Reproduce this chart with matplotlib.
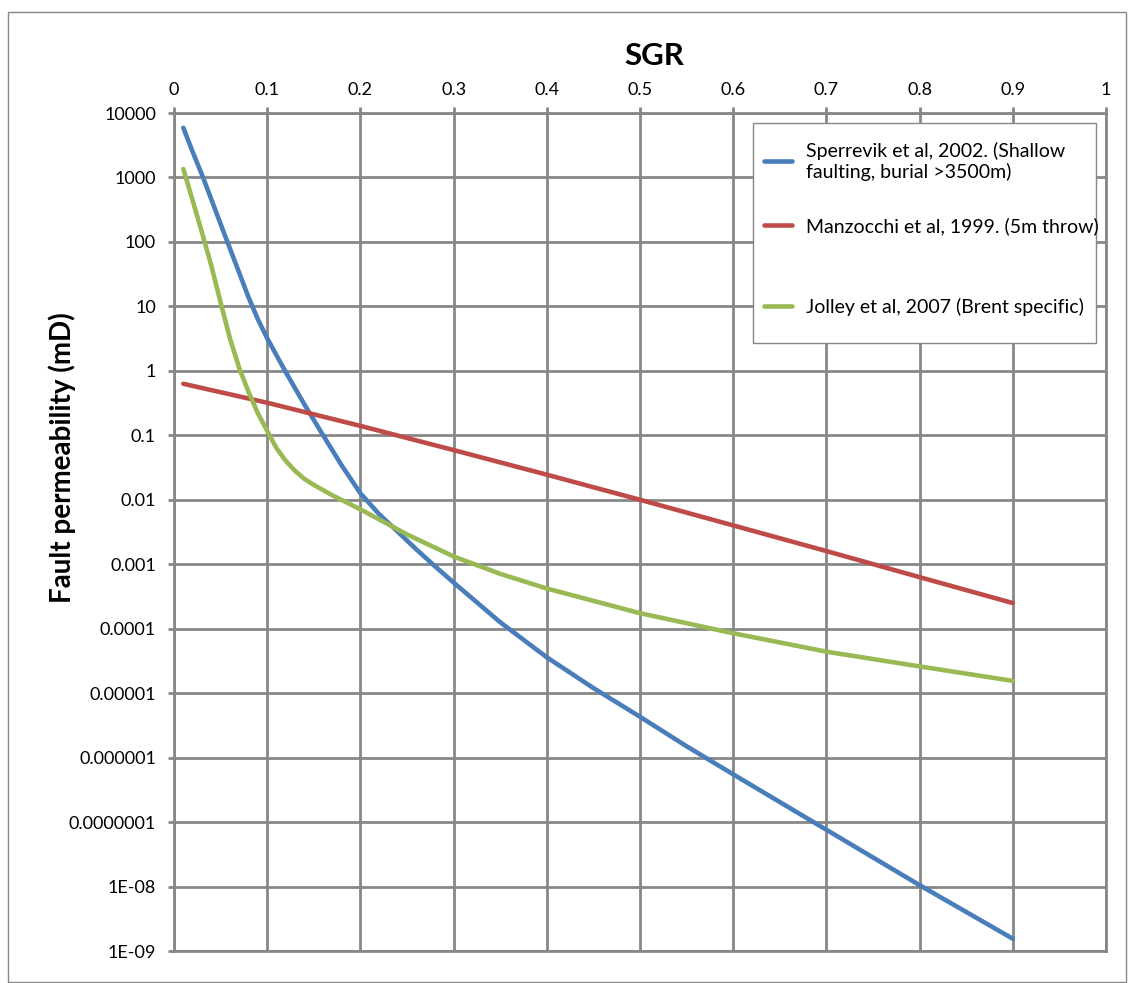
import matplotlib.pyplot as plt
import matplotlib.ticker as mticker
from matplotlib.patches import Rectangle

# SGR values and permeabilities (mD)
sgr_sperrevik = [0.01, 0.02, 0.03, 0.04, 0.05, 0.06, 0.07, 0.08, 0.09, 0.10,
                 0.12, 0.14, 0.16, 0.18, 0.20, 0.22, 0.24, 0.26, 0.28, 0.30,
                 0.35, 0.40, 0.45, 0.50, 0.55, 0.60, 0.70, 0.80, 0.90]
k_sperrevik = [5900, 2500, 1100, 460, 190, 79, 33, 13.8, 6.3, 3.2,
               0.95, 0.30, 0.10, 0.034, 0.0126, 0.0060, 0.0032, 0.0017, 0.00093, 0.00052,
               1.26e-4, 3.6e-5, 1.2e-5, 4.3e-6, 1.5e-6, 5.5e-7, 7.6e-8, 1.05e-8, 1.55e-9]

sgr_manzocchi = [0.01, 0.1, 0.2, 0.3, 0.4, 0.5, 0.6, 0.7, 0.8, 0.9]
k_manzocchi = [0.63, 0.32, 0.14, 0.059, 0.0245, 0.010, 0.0040, 0.0016, 0.00063, 0.00025]

sgr_jolley = [0.01, 0.02, 0.03, 0.04, 0.05, 0.06, 0.07, 0.08, 0.09, 0.10,
              0.11, 0.12, 0.13, 0.14, 0.15, 0.17, 0.20, 0.25, 0.30, 0.35,
              0.40, 0.50, 0.60, 0.70, 0.80, 0.90]
k_jolley = [1350, 440, 140, 43, 11.5, 3.2, 1.1, 0.47, 0.22, 0.117,
            0.063, 0.040, 0.028, 0.021, 0.017, 0.0117, 0.0071, 0.0029, 0.00132, 0.00071,
            0.00042, 0.000174, 8.5e-5, 4.4e-5, 2.6e-5, 1.55e-5]

series_labels = ['Sperrevik et al, 2002. (Shallow\nfaulting, burial >3500m)',
                 'Manzocchi et al, 1999. (5m throw)',
                 'Jolley et al, 2007 (Brent specific)']
series_colors = ['#4A7EBB', '#BE4B48', '#98B954']

xtick_values = [0, 0.1, 0.2, 0.3, 0.4, 0.5, 0.6, 0.7, 0.8, 0.9, 1]
xtick_labels = ['0', '0.1', '0.2', '0.3', '0.4', '0.5', '0.6', '0.7', '0.8', '0.9', '1']
ytick_values = [1e4, 1e3, 1e2, 1e1, 1, 1e-1, 1e-2, 1e-3, 1e-4, 1e-5, 1e-6, 1e-7, 1e-8, 1e-9]
ytick_labels = ['10000', '1000', '100', '10', '1', '0.1', '0.01', '0.001', '0.0001',
                '0.00001', '0.000001', '0.0000001', '1E-08', '1E-09']

plt.rcParams['font.family'] = ['Lato', 'DejaVu Sans']
grid_col = '#878787'

fig = plt.figure(figsize=(11.28, 9.83), dpi=100)
ax = fig.add_axes([174 / 1128, 1 - 951 / 983, 932 / 1128, 838 / 983])

lines = []
for xs, ks, lab, col in zip([sgr_sperrevik, sgr_manzocchi, sgr_jolley],
                            [k_sperrevik, k_manzocchi, k_jolley],
                            series_labels, series_colors):
    ln, = ax.plot(xs, ks, color=col, lw=3.3, label=lab, solid_capstyle='round', zorder=3)
    lines.append(ln)

ax.set_yscale('log')
ax.set_xlim(0, 1)
ax.set_ylim(1e-9, 1e4)
ax.set_xticks(xtick_values)
ax.set_xticklabels(xtick_labels)
ax.set_yticks(ytick_values)
ax.set_yticklabels(ytick_labels)
ax.yaxis.set_minor_locator(mticker.NullLocator())
ax.xaxis.tick_top()
ax.tick_params(axis='both', length=4, width=2, color=grid_col, labelsize=13,
               direction='out')
ax.tick_params(axis='x', pad=7)
ax.tick_params(axis='y', pad=9)
ax.grid(True, color=grid_col, lw=2)
ax.set_axisbelow(True)
for s in ax.spines.values():
    s.set_color(grid_col)
    s.set_linewidth(2)

fig.text(654 / 1128, 1 - 56 / 983, 'SGR', fontsize=22.5, fontweight='bold',
         ha='center', va='center')
fig.text(62 / 1128, 1 - 458 / 983, 'Fault permeability (mD)', fontsize=20,
         fontweight='bold', rotation=90, ha='center', va='center')

# legend box (Excel style, uneven entry spacing -> two legends in one frame)
ax.add_patch(Rectangle((0.6212, 0.7255), 0.3681, 0.2626, transform=ax.transAxes,
                       facecolor='white', edgecolor=grid_col, lw=1, zorder=4))
leg_kw = dict(fontsize=14, frameon=False, handlelength=1.45, handletextpad=0.7,
              borderpad=0, borderaxespad=0)
leg1 = ax.legend(handles=lines[:2], loc='upper left', bbox_to_anchor=(0.633, 0.966),
                 labelspacing=1.87, **leg_kw)
leg1.set_zorder(5)
ax.add_artist(leg1)
leg2 = ax.legend(handles=lines[2:], loc='center left', bbox_to_anchor=(0.633, 0.7687),
                 **leg_kw)
leg2.set_zorder(5)

# outer chart border
fig.patches.append(Rectangle((8 / 1128, 1 / 983), 1118 / 1128, 970 / 983,
                             transform=fig.transFigure, fill=False,
                             edgecolor=grid_col, lw=1))

fig.savefig('out.png', dpi=100)
